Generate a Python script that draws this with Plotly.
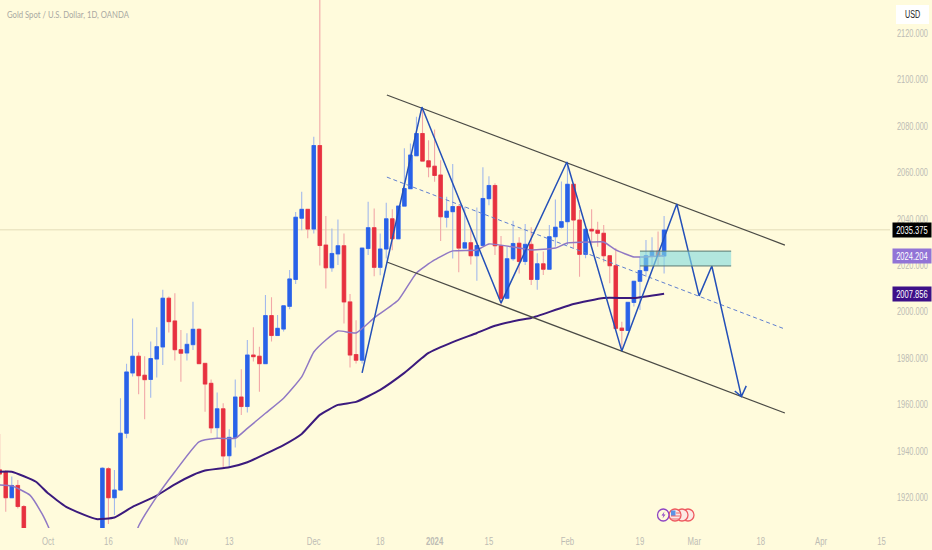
import plotly.graph_objects as go

W, H = 932, 550
PLOT_R, PLOT_B = 890, 528
FONT = "Liberation Sans, Arial, sans-serif"
BG = "#fffbdc"

title = "Gold Spot / U.S. Dollar, 1D, OANDA"
bar_index = [-8,-7,-6,-5,-4,9,10,11,12,13,14,15,16,17,18,19,20,21,22,23,24,25,26,27,28,29,30,31,32,33,34,35,36,37,38,39,40,
             41,42,43,44,45,46,47,48,49,50,51,52,53,54,55,56,57,58,59,60,61,62,63,64,65,66,67,68,69,70,71,72,73,74,75,76,77,
             78,79,80,81,82,83,84,85,86,87,88,89,90,91,92,93,94,95,96,97,98,99,100,101,102]
opens = [1931.9,1931.1,1919.9,1925.2,1916.1,1870,1932.4,1919.9,1923.2,1947.7,1973.7,1980.9,1972.7,1970.9,1979.7,1984.9,2005.9,1996.1,1983.7,1982.3,1985.9,1992.5,1977.8,1969.2,1950.1,1958.2,1938,1945.9,1963.3,1959.2,1981.4,1980.9,1977.7,1998.4,1989.8,1992.6,2002.4,
         2014,2040.4,2044.2,2035.7,2071.7,2028.8,2019,2025,2028.5,2004.3,1981.6,1979.2,2027.3,2036.3,2019.2,2027.1,2040.1,2031.5,2045.6,2053.1,2067.3,2076.9,2065.1,2062.8,2059,2040.8,2043.2,2045.4,2027.5,2029.8,2024.2,2028.6,2048.8,2054.5,2028.5,2005.9,2022.9,
         2029.6,2021.7,2029.1,2014,2020.7,2018.4,2032.4,2036.5,2038.9,2055,2039.6,2024.8,2035.6,2035.2,2033.9,2024.2,2019.9,1993,1992,2004.1,2013.2,2017.8,2024.1,2026.1,2024.1]
closes = [1930.1,1919.9,1925.2,1916.1,1895,1932.6,1919.9,1923.2,1947.7,1974.1,1980.9,1972.5,1970.8,1979.9,1985,2005.9,1995.8,1983.7,1982.2,1986,1992.5,1977.7,1968.9,1950,1958.2,1937.9,1945.9,1963.3,1959.2,1981.4,1980.7,1977.7,1998.4,1989.8,1992.9,2002.6,2014.2,
          2040.8,2044.2,2035.7,2071.7,2028.6,2019,2025.2,2028.5,2004.3,1981.4,1979.2,2027.5,2036.3,2019.2,2027.1,2040.1,2031.5,2045.6,2053.2,2067.6,2076.9,2065,2062.5,2058.8,2041,2043.4,2045.4,2027.5,2029.8,2024.2,2028.6,2048.9,2054.5,2028.5,2005.8,2022.9,2029.5,
          2021.7,2029.1,2014,2020.7,2018.4,2032.4,2036.5,2038.9,2055,2039.6,2024.8,2035.6,2034.9,2033.9,2024.2,2019.9,1992.9,1992,2004.1,2013.2,2017.8,2024.2,2026.1,2024.1,2035.3]
highs = [1947.4,1931.9,1929,1927.5,1916.8,1933,1933,1931.9,1962.8,1977.6,1997.2,1982.6,1980.9,1987.2,1993.4,2009.5,2006.6,2008,1992.2,1990.8,2004.4,1992.9,1977.8,1970.9,1965.3,1960.6,1949.4,1970.9,1975.3,1987.9,1993.4,1985,2007.3,2006.3,1998.7,2003,2018.1,
         2043.1,2051.8,2044.2,2075.5,2135.4,2041.3,2036,2039.8,2033.8,2007.7,1996.4,2027.5,2047.5,2044.6,2033.8,2047,2044.2,2045.6,2070.5,2072.6,2084.1,2087.7,2074,2078.6,2065.4,2049.6,2063.7,2046,2045.3,2036,2045,2062.3,2058.5,2055.4,2032.7,2028.1,2039.3,
         2032.2,2037.9,2036.5,2025.3,2026,2037.5,2048.5,2056.2,2064,2055,2043.9,2035.6,2044.2,2038.9,2037.5,2024.5,2027.4,1995.8,2004.1,2013.2,2023.8,2031,2032.2,2034.6,2041.3]
lows = [1928.3,1913.9,1919.9,1915.3,1890,1867,1908.6,1912.5,1923.2,1945.5,1972.1,1964.5,1953.7,1963,1971.7,1977.1,1991.1,1979,1969.9,1979,1983.6,1977.7,1957,1947.7,1945.5,1933,1933.3,1941.6,1955.6,1956.6,1978.6,1965.6,1977.7,1987.2,1989.8,1991.5,2001.1,
        2012,2035.2,2031.7,2033.8,2020,2010.1,2017.3,2020.2,1995,1976,1977.8,1977.8,2024.5,2015.4,2015.8,2023,2026.6,2031.5,2045.6,2053.1,2067.3,2065,2058,2056.1,2030.6,2036.4,2023,2017.1,2027.3,2020.4,2013.4,2028.6,2046,2024.5,2002.9,2005.9,2022,
        2016.6,2020.2,2011.6,2009.5,2015.9,2018.4,2028.1,2036,2028.8,2027.4,2015.2,2023.1,2028.8,2028.1,2021.4,2012.3,1992.2,1983.6,1992,2002.3,2000.8,2015.2,2020.2,2020.2,2016.6]

slow_ma_x = [-8,-6,-2,0,3,6,8,11,14,18,21,24,26,30,33,36,39,42,45,48,51,55,59,63,67,71,74,78,80,87,92,97,102]
slow_ma_y = [1931.1,1931.1,1926.8,1921.8,1916,1912.5,1910.7,1911.4,1916,1920.8,1925.7,1929.7,1931.6,1933,1935.2,1938.8,1942.6,1947.4,1955.6,1959.9,1961.2,1966.4,1973.7,1982.3,1987,1990.9,1994,1996.5,1997.4,2003.4,2006,2006,2007.856]
fast_ma_x = [-8,-6,-3,-1,0,2,7,12,15,18,21,25,28,31,33,36,39,42,44,46,48,51,54,58,61,64,67,71,73,77,80,84,86,90,92,94,97,99,102]
fast_ma_y = [1925.4,1925,1921,1913,1907.7,1895,1875,1885,1907.7,1920.4,1931.1,1944,1945.5,1945.5,1949.8,1956.3,1962.8,1972,1982.7,1987.9,1991.8,1990.9,1997.4,2005.1,2016.8,2022.4,2026.3,2026.7,2029.3,2028,2026.7,2027.5,2029.7,2030.1,2030.1,2026.7,2023.7,2023.7,2024.204]

channel_x = [56.1, 122]
channel_upper = [2093.5, 2028.8]
channel_lower = [2021.5, 1956.4]
channel_mid = [2058.1, 1992.6]
zigzag_x = [52, 61.9, 75, 85.9, 95, 104.1, 107.8, 109.9, 114.8, 113.7, 114.8, 115.6]
zigzag_y = [1973.7, 2088.3, 2003.8, 2064.6, 1983.1, 2046.5, 2006.9, 2019.8, 1963.5, 1965.9, 1963.5, 1968.1]
zone_x = [98, 113.1]
zone_y = [2019.8, 2026.2]

tick_pos = [0, 10, 22, 30, 44, 55, 64, 73, 86, 98, 107, 118, 128, 138]
tick_text = ["Oct", "16", "Nov", "13", "Dec", "18", "<b>2024</b>", "15", "Feb", "19", "Mar", "18", "Apr", "15"]
price_ticks = [1920, 1940, 1960, 1980, 2000, 2020, 2040, 2060, 2080, 2100, 2120]
last_price = 2035.375
fast_last = 2024.204
slow_last = 2007.856

x_range = [-7.95, 139.4]
y_range = [1906.85, 2134.44]

fig = go.Figure()
fig.add_trace(go.Scatter(x=slow_ma_x, y=slow_ma_y, mode="lines", line=dict(color="#3b1a7d", width=2, shape="spline", smoothing=0.45), hoverinfo="skip"))
fig.add_trace(go.Candlestick(
    x=bar_index, open=opens, high=highs, low=lows, close=closes,
    increasing=dict(line=dict(color="#a3b9ec", width=1.1), fillcolor="#2962e8"),
    decreasing=dict(line=dict(color="#f2a8a8", width=1.1), fillcolor="#e7313f"),
))
# solid bodies over the pale wicks
body_high = [max(o, c) for o, c in zip(opens, closes)]
body_low = [min(o, c) for o, c in zip(opens, closes)]
fig.add_trace(go.Candlestick(
    x=bar_index, open=opens, high=body_high, low=body_low, close=closes,
    increasing=dict(line=dict(color="#2962e8", width=0.8), fillcolor="#2962e8"),
    decreasing=dict(line=dict(color="#e7313f", width=0.8), fillcolor="#e7313f"),
))
fig.add_trace(go.Scatter(x=fast_ma_x, y=fast_ma_y, mode="lines", line=dict(color="#9078c4", width=1.5, shape="spline", smoothing=0.45), hoverinfo="skip"))
fig.add_trace(go.Scatter(x=channel_x, y=channel_upper, mode="lines", line=dict(color="#4a4a45", width=1.2), hoverinfo="skip"))
fig.add_trace(go.Scatter(x=channel_x, y=channel_lower, mode="lines", line=dict(color="#4a4a45", width=1.2), hoverinfo="skip"))
fig.add_trace(go.Scatter(x=channel_x, y=channel_mid, mode="lines", line=dict(color="#5f7fd0", width=1, dash="4px,3px"), hoverinfo="skip"))
fig.add_trace(go.Scatter(x=zigzag_x, y=zigzag_y, mode="lines", line=dict(color="#2450b8", width=1.5), hoverinfo="skip"))
# invisible canvas-wide helper axes (page pixels) for the overlay items
fig.add_trace(go.Scatter(x=[0], y=[0], xaxis="x2", yaxis="y2", mode="markers", marker=dict(opacity=0), hoverinfo="skip"))

PX = dict(xref="x2", yref="y2")
shapes = [
    dict(type="line", xref="x2", x0=0, x1=PLOT_R, yref="y", y0=last_price, y1=last_price, line=dict(color="#e3dcb8", width=1), layer="below"),
    dict(type="rect", xref="x", yref="y", x0=zone_x[0], x1=zone_x[1], y0=zone_y[0], y1=zone_y[1], fillcolor="rgba(130,218,222,0.62)", line=dict(width=0), layer="above"),
    dict(type="line", xref="x", yref="y", x0=zone_x[0], x1=zone_x[1], y0=zone_y[0], y1=zone_y[0], line=dict(color="#5c7a72", width=1)),
    dict(type="line", xref="x", yref="y", x0=zone_x[0], x1=zone_x[1], y0=zone_y[1], y1=zone_y[1], line=dict(color="#5c7a72", width=1)),
]
# event icons
for cx in [688, 682, 675]:
    shapes.append(dict(type="circle", **PX, x0=cx - 6, x1=cx + 6, y0=521, y1=509, fillcolor="#fbe9e4", line=dict(color="#ee5a60", width=1.3)))
shapes.append(dict(type="rect", **PX, x0=671, x1=675.5, y0=516, y1=510.5, fillcolor="#5b93e6", line=dict(width=0)))
for sy in [513, 516, 519]:
    shapes.append(dict(type="line", **PX, x0=671 if sy > 515 else 676, x1=680, y0=sy, y1=sy, line=dict(color="#ee6a70", width=1)))
shapes.append(dict(type="circle", **PX, x0=657.5, x1=669, y0=521, y1=509, fillcolor=BG, line=dict(color="#8e44c4", width=1.3)))
shapes.append(dict(type="path", **PX, path="M 664.5 511.5 L 661.5 515.5 L 663.5 515.5 L 662.5 518.5 L 665.5 514.5 L 663.5 514.5 Z",
                   fillcolor="#8e44c4", line=dict(width=0)))
shapes.append(dict(type="rect", **PX, x0=896, x1=929, y0=24, y1=5, fillcolor="#ffffff", line=dict(width=0)))

annos = [
    dict(**PX, x=5, y=14, xanchor="left", yanchor="middle", showarrow=False, text=title,
         font=dict(family="Lato, sans-serif", size=9.5, color="#a9a8a2")),
    dict(**PX, x=912.5, y=14.5, xanchor="center", yanchor="middle", showarrow=False, text="USD",
         font=dict(family=FONT, size=10, color="#222222")),
]
for val, col in [(last_price, "#000000"), (fast_last, "#9274d6"), (slow_last, "#3d1088")]:
    annos.append(dict(xref="x2", yref="y", x=912, y=val, xanchor="center", yanchor="middle", showarrow=False,
                      text=f"{val:.3f}", bgcolor=col, borderpad=1, width=36, height=12,
                      font=dict(family=FONT, size=10.5, color="#ffffff")))

fig.update_layout(
    width=W, height=H, margin=dict(l=0, r=0, t=0, b=0, pad=0),
    autosize=False, paper_bgcolor=BG, plot_bgcolor="rgba(0,0,0,0)", showlegend=False, boxgap=0.18, boxmode="overlay",
    shapes=shapes, annotations=annos,
    xaxis=dict(automargin=False, domain=[0, PLOT_R / W], range=x_range, rangeslider=dict(visible=False), showgrid=False, zeroline=False, showline=False,
               tickmode="array", tickvals=tick_pos, ticktext=tick_text, ticks="outside", ticklen=3, tickcolor=BG,
               tickfont=dict(family=FONT, size=10.5, color="#bdbcb4")),
    yaxis=dict(automargin=False, domain=[(H - PLOT_B) / H, 1], range=y_range, side="right", showgrid=False, zeroline=False, showline=False,
               tickmode="array", tickvals=price_ticks, tickformat=".3f", ticks="outside", ticklen=4, tickcolor=BG,
               tickfont=dict(family=FONT, size=10, color="#bdbcb4")),
    xaxis2=dict(automargin=False, domain=[0, 1], range=[0, W], visible=False, anchor="y2", fixedrange=True),
    yaxis2=dict(automargin=False, domain=[0, 1], range=[H, 0], visible=False, anchor="x2", fixedrange=True),
)
post = """
document.body.style.margin='0';document.body.style.overflow='hidden';document.body.style.background='#fffbdc';
function squeeze(el,f,shift){var n=el.getComputedTextLength();el.setAttribute('lengthAdjust','spacingAndGlyphs');el.setAttribute('textLength',n*f);
 if(shift){el.setAttribute('x',parseFloat(el.getAttribute('x'))-n*(1-f)/2);}}
document.querySelectorAll('.xtick text,.ytick text').forEach(function(t){squeeze(t,0.74,false);});
document.querySelectorAll('.annotation-text').forEach(function(t,i){squeeze(t,i==0?0.81:0.72,i==0);});
"""
fig.write_html("out.html", config=dict(displayModeBar=False), post_script=post)
